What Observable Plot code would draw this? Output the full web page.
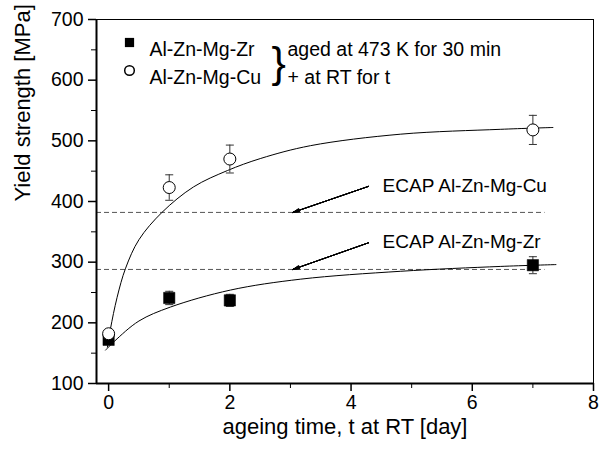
<!DOCTYPE html>
<html>
<head>
<meta charset="utf-8">
<script src="https://cdn.jsdelivr.net/npm/d3@7"></script>
<script src="https://cdn.jsdelivr.net/npm/@observablehq/plot@0.6"></script>
<style>
  html, body { margin: 0; padding: 0; background: white; }
</style>
</head>
<body>
<div id="chart"></div>
<script>
// ---- data ----
const days = [0, 1, 2, 7];
const zrStrength = [172, 241, 237, 295];
const zrError = [5, 11, 10, 14];
const cuStrength = [182, 423, 470, 518];
const cuError = [6, 21, 23, 24];

// fitted curves
const cuFitT = [-0.02, 0.03, 0.14, 0.28, 0.5, 0.88, 1.4, 1.96, 2.51, 3.33, 4.82, 6.47, 7.33];
const cuFitY = [160, 190, 242, 290, 337, 382, 424, 451, 471, 492, 511, 519, 522];
const zrFitT = [-0.05, 0.1, 0.5, 1.02, 2.01, 3.17, 4.82, 6.47, 7.38];
const zrFitY = [155, 170, 203, 226, 254, 272, 285, 293, 296];

// ECAP reference levels and annotation
const ecapLabels = ["ECAP Al-Zn-Mg-Cu", "ECAP Al-Zn-Mg-Zr"];
const ecapLevels = [382, 288];
const ecapLineEnd = [7.2, 7.2];
const ecapLabelT = [4.52, 4.52];
const ecapLabelY = [425, 334];
const arrowTailT = [4.29, 4.29];
const arrowTailY = [425, 332];
const arrowTipT = [3.04, 3.04];

const legendNames = ["Al-Zn-Mg-Zr", "Al-Zn-Mg-Cu"];
const legendNotes = ["aged at 473 K for 30 min", "+ at RT for t"];

const xTicks = [0, 2, 4, 6, 8];
const xMinor = [1, 3, 5, 7];
const yTicks = [100, 200, 300, 400, 500, 600, 700];
const yMinor = [150, 250, 350, 450, 550, 650];

// ---- build tables ----
const zr = days.map((t, i) => ({t, y: zrStrength[i], e: zrError[i]}));
const cu = days.map((t, i) => ({t, y: cuStrength[i], e: cuError[i]}));
const cuFit = cuFitT.map((t, i) => ({t, y: cuFitY[i]}));
const zrFit = zrFitT.map((t, i) => ({t, y: zrFitY[i]}));
const ecap = ecapLabels.map((label, i) => ({
  label, level: ecapLevels[i], end: ecapLineEnd[i],
  lt: ecapLabelT[i], ly: ecapLabelY[i],
  at: arrowTailT[i], ay: arrowTailY[i], tt: arrowTipT[i]
}));

const capSymbol = {
  draw(context, size) {
    const w = Math.sqrt(size / Math.PI);
    context.moveTo(-w, 0);
    context.lineTo(w, 0);
  }
};

const errMarks = (data) => [
  Plot.ruleX(data, {x: "t", y1: d => d.y - d.e, y2: d => d.y + d.e, stroke: "#333", strokeWidth: 1}),
  Plot.dot(data, {x: "t", y: d => d.y + d.e, symbol: capSymbol, r: 4, stroke: "#333", strokeWidth: 1, fill: "none"}),
  Plot.dot(data, {x: "t", y: d => d.y - d.e, symbol: capSymbol, r: 4, stroke: "#333", strokeWidth: 1, fill: "none"})
];

const headAngles = [6, 12, 18, 24, 30];

const chart = Plot.plot({
  width: 599,
  height: 450,
  marginLeft: 96,
  marginRight: 6,
  marginTop: 19,
  marginBottom: 67,
  x: {domain: [-0.2, 8]},
  y: {domain: [100, 700]},
  style: {fontFamily: "'Liberation Sans', Arial, sans-serif", background: "white", color: "black"},
  marks: [
    // ECAP dashed levels
    Plot.ruleY(ecap, {y: "level", x1: -0.2, x2: "end", stroke: "#555", strokeWidth: 1, strokeDasharray: "5,3"}),
    // fitted curves
    Plot.line(cuFit, {x: "t", y: "y", curve: "catmull-rom", stroke: "black", strokeWidth: 1}),
    Plot.line(zrFit, {x: "t", y: "y", curve: "catmull-rom", stroke: "black", strokeWidth: 1}),
    // error bars
    ...errMarks(zr),
    ...errMarks(cu),
    // data points
    Plot.dot(zr, {x: "t", y: "y", symbol: "square", r: 6.4, fill: "black", stroke: "black", strokeWidth: 0.5}),
    Plot.dot(cu, {x: "t", y: "y", symbol: "circle", r: 6, fill: "white", stroke: "black", strokeWidth: 1}),
    // arrows
    ...headAngles.map(a => Plot.arrow(ecap, {x1: "at", y1: "ay", x2: "tt", y2: "level", headLength: 10, headAngle: a, stroke: "black", strokeWidth: 1})),
    Plot.text(ecap, {x: "lt", y: "ly", text: "label", textAnchor: "start", fontSize: 19, fill: "black"}),
    // legend
    Plot.dot([legendNames[0]], {frameAnchor: "top-left", dx: 33, dy: 23, symbol: "square", r: 5.2, fill: "black"}),
    Plot.dot([legendNames[1]], {frameAnchor: "top-left", dx: 33, dy: 51, symbol: "circle", r: 4.8, fill: "white", stroke: "black"}),
    Plot.text([legendNames[0]], {frameAnchor: "top-left", dx: 53, dy: 23, text: d => d, textAnchor: "start", fontSize: 19.5}),
    Plot.text([legendNames[1]], {frameAnchor: "top-left", dx: 53, dy: 51, text: d => d, textAnchor: "start", fontSize: 19.5}),
    Plot.text(["}"], {frameAnchor: "top-left", dx: 175, dy: 27, text: d => d, textAnchor: "start", fontSize: 43, fontWeight: 300}),
    Plot.text([legendNotes[0]], {frameAnchor: "top-left", dx: 191, dy: 23, text: d => d, textAnchor: "start", fontSize: 19.5}),
    Plot.text([legendNotes[1]], {frameAnchor: "top-left", dx: 191, dy: 51, text: d => d, textAnchor: "start", fontSize: 19.5}),
    // frame & axes
    Plot.frame({stroke: "black", strokeWidth: 1}),
    Plot.ruleX([-0.2], {stroke: "black", strokeWidth: 2}),
    Plot.ruleY([100], {stroke: "black", strokeWidth: 2}),
    Plot.axisX(xTicks, {tickSize: 8, tickPadding: 4, fontSize: 19.5, label: null, strokeWidth: 1.5}),
    Plot.axisX(xMinor, {tickSize: 5, tickFormat: () => "", label: null, strokeWidth: 1}),
    Plot.axisY(yTicks, {tickSize: 8, tickPadding: 5, fontSize: 19.5, label: null, strokeWidth: 1.5}),
    Plot.axisY(yMinor, {tickSize: 5, tickFormat: () => "", label: null, strokeWidth: 1}),
    // axis titles
    Plot.text(["ageing time, t at RT [day]"], {frameAnchor: "bottom", dy: 50, text: d => d, fontSize: 22}),
    Plot.text(["Yield strength [MPa]"], {frameAnchor: "left", dx: -74, rotate: -90, text: d => d, fontSize: 22})
  ]
});
document.getElementById("chart").appendChild(chart);
</script>
</body>
</html>
